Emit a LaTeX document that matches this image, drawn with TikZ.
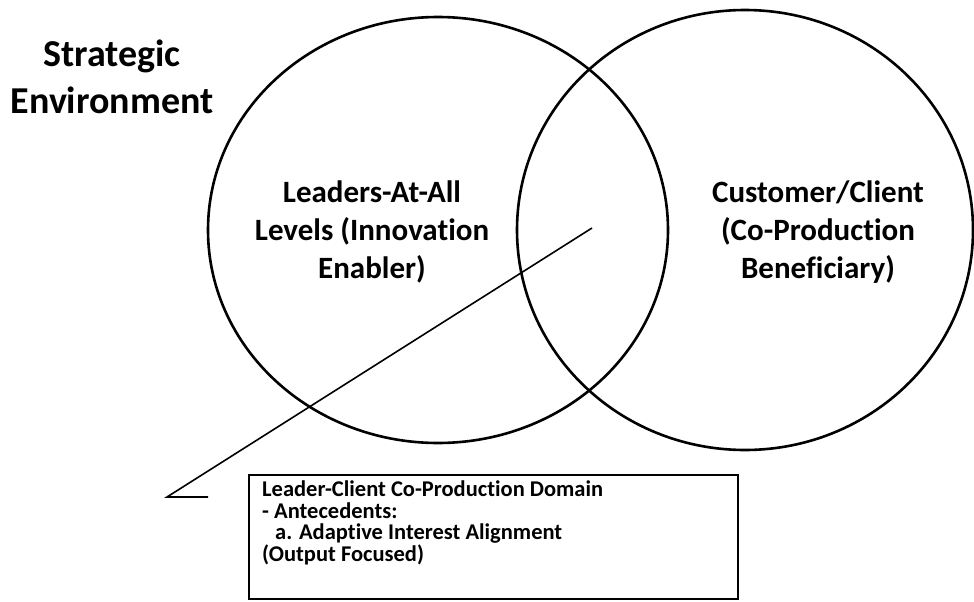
\documentclass[tikz,border=0pt]{standalone}
\usepackage{fontspec}
\setmainfont{Carlito}[Ligatures = NoCommon]
\usetikzlibrary{shapes.geometric}

\begin{document}

\begin{tikzpicture}[x = 1pt, y = -1pt,
	set/.style = {ellipse, draw, line width = 2.6pt, inner sep = 0pt},
	setlabel/.style = {align = center, font = \bfseries\fontsize{31}{38}\selectfont},
	callout/.style = {line width = 1.6pt}]

	% Page size

	\useasboundingbox (0, 0) rectangle (974, 602);

	% Title

	\node [align = center, font = \bfseries\fontsize{38}{47}\selectfont] (env) at (112, 77) {Strategic\\Environment};

	% Sets

	\node [set, minimum width = 460pt, minimum height = 426pt] (leaders) at (438, 230) {};
	\node [set, minimum width = 456pt, minimum height = 440pt] (client) at (745, 230) {};

	\node [setlabel] (leaderstext) at (372, 232) {Leaders-At-All\\Levels (Innovation\\Enabler)};
	\node [setlabel] (clienttext) at (818, 232) {Customer/Client\\(Co-Production\\Beneficiary)};

	% Callout

	\coordinate (tip) at (592, 228);
	\coordinate (elbow) at (167, 497);
	\coordinate (tail) at (208, 497);

	\draw [callout] (tip) -- (elbow) -- (tail);

	% Domain box

	\node [draw, line width = 1.6pt, minimum width = 489pt, minimum height = 124pt, anchor = north west] (domain) at (248, 474) {};
	\node [anchor = north west, inner sep = 0pt, align = left, font = \bfseries\fontsize{22.5}{21.5}\selectfont] (domaintext) at (262, 481)
		{Leader-Client Co-Production Domain\\- Antecedents:\\\hspace*{13pt}a. Adaptive Interest Alignment\\(Output Focused)};

\end{tikzpicture}

\end{document}
